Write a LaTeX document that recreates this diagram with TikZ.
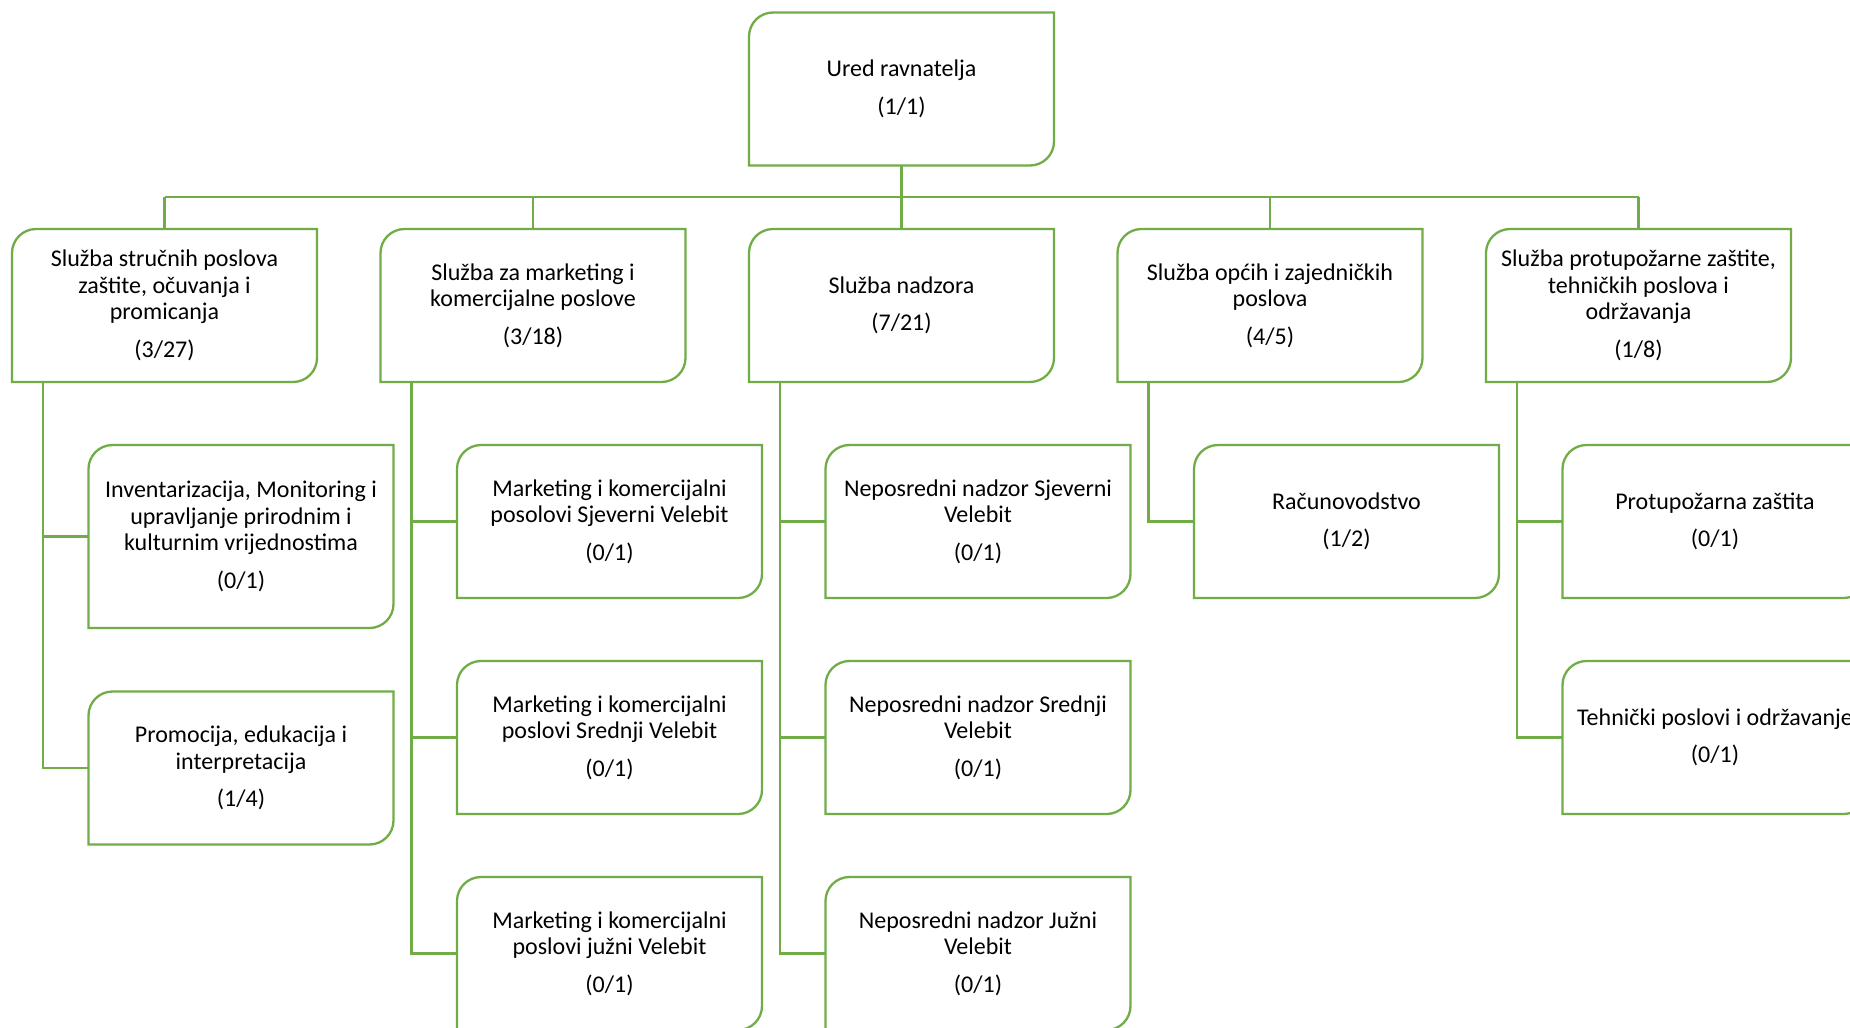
\documentclass[tikz,border=0pt]{standalone}
\usepackage{fontspec}
\setmainfont{Carlito}
\definecolor{ogreen}{HTML}{70AD47}
\tikzset{
  gline/.style={draw=ogreen, line width=2.3pt},
  obox/.style={minimum width=305pt, minimum height=153pt, inner sep=0pt, outer sep=0pt,
    align=center, font=\fontsize{24}{26.5}\selectfont, text=black},
}
\newcommand\rbox[1]{%
  \draw[gline] (#1.south west) -- ([yshift=-24pt]#1.north west)
    arc[start angle=180,end angle=90,radius=24pt] -- (#1.north east)
    -- ([yshift=24pt]#1.south east)
    arc[start angle=0,end angle=-90,radius=24pt] -- cycle;}
\begin{document}
\begin{tikzpicture}[x=1pt,y=1pt]
\useasboundingbox (0,0) rectangle (1850,-1028);
\clip (0,0) rectangle (1850,-1028);
\fill[white] (0,0) rectangle (1850,-1028);

\node[obox] (top) at (901.5,-89) {Ured ravnatelja\\[11pt](1/1)};

\node[obox] (s1) at (164.5,-305.5) {Služba stručnih poslova\\zaštite, očuvanja i\\promicanja\\[11pt](3/27)};
\node[obox] (s2) at (533,-305.5) {Služba za marketing i\\komercijalne poslove\\[11pt](3/18)};
\node[obox] (s3) at (901.5,-305.5) {Služba nadzora\\[11pt](7/21)};
\node[obox] (s4) at (1270,-305.5) {Služba općih i zajedničkih\\poslova\\[11pt](4/5)};
\node[obox] (s5) at (1638.5,-305.5) {Služba protupožarne zaštite,\\tehničkih poslova i\\održavanja\\[11pt](1/8)};

\node[obox, minimum height=183pt] (c11) at (241,-536.5) {Inventarizacija, Monitoring i\\upravljanje prirodnim i\\kulturnim vrijednostima\\[11pt](0/1)};
\node[obox] (c12) at (241,-768) {Promocija, edukacija i\\interpretacija\\[11pt](1/4)};

\node[obox] (c21) at (609.5,-521.5) {Marketing i komercijalni\\posolovi Sjeverni Velebit\\[11pt](0/1)};
\node[obox] (c22) at (609.5,-737.5) {Marketing i komercijalni\\poslovi Srednji Velebit\\[11pt](0/1)};
\node[obox] (c23) at (609.5,-953.5) {Marketing i komercijalni\\poslovi južni Velebit\\[11pt](0/1)};

\node[obox] (c31) at (978,-521.5) {Neposredni nadzor Sjeverni\\Velebit\\[11pt](0/1)};
\node[obox] (c32) at (978,-737.5) {Neposredni nadzor Srednji\\Velebit\\[11pt](0/1)};
\node[obox] (c33) at (978,-953.5) {Neposredni nadzor Južni\\Velebit\\[11pt](0/1)};

\node[obox] (c41) at (1346.5,-521.5) {Računovodstvo\\[11pt](1/2)};

\node[obox] (c51) at (1715,-521.5) {Protupožarna zaštita\\[11pt](0/1)};
\node[obox] (c52) at (1715,-737.5) {Tehnički poslovi i održavanje\\[11pt](0/1)};

\foreach \n in {top,s1,s2,s3,s4,s5,c11,c12,c21,c22,c23,c31,c32,c33,c41,c51,c52}{\rbox{\n}}

% bus
\coordinate (bus) at (0,-197);
\draw[gline] (top.south) -- (s3.north);
\draw[gline] (s1.north |- bus) -- (s5.north |- bus);
\foreach \n in {s1,s2,s4,s5}{\draw[gline] (\n.north) -- (\n.north |- bus);}

% child connectors
\draw[gline] ([xshift=31pt]s1.south west) |- (c11.west);
\draw[gline] ([xshift=31pt]s1.south west) |- (c12.west);
\draw[gline] ([xshift=31pt]s2.south west) |- (c21.west);
\draw[gline] ([xshift=31pt]s2.south west) |- (c22.west);
\draw[gline] ([xshift=31pt]s2.south west) |- (c23.west);
\draw[gline] ([xshift=31pt]s3.south west) |- (c31.west);
\draw[gline] ([xshift=31pt]s3.south west) |- (c32.west);
\draw[gline] ([xshift=31pt]s3.south west) |- (c33.west);
\draw[gline] ([xshift=31pt]s4.south west) |- (c41.west);
\draw[gline] ([xshift=31pt]s5.south west) |- (c51.west);
\draw[gline] ([xshift=31pt]s5.south west) |- (c52.west);
\end{tikzpicture}
\end{document}
